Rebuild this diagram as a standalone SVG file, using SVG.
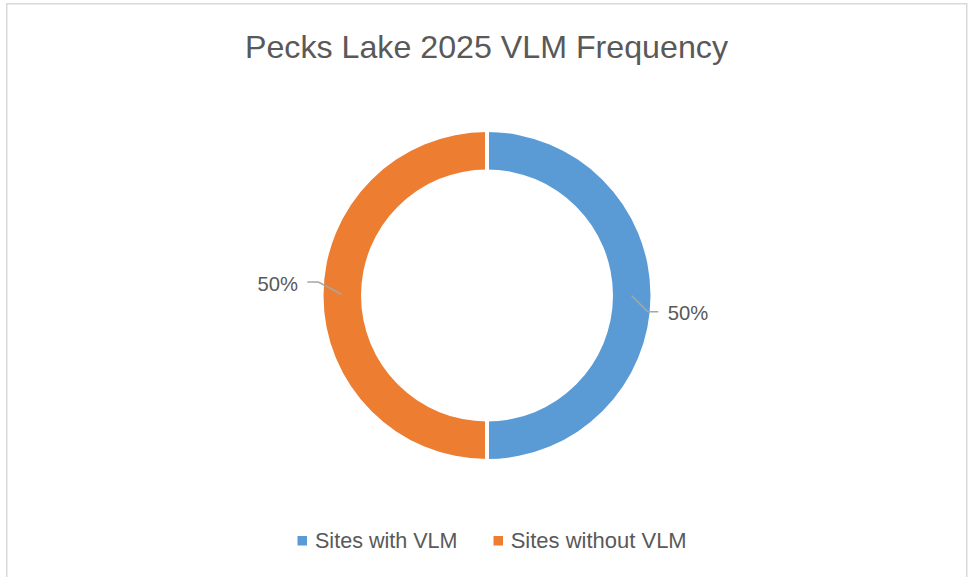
<svg xmlns="http://www.w3.org/2000/svg" width="969" height="577" viewBox="0 0 969 577">
  <style>
    .txt { font-family: "Liberation Sans", Arial, sans-serif; fill: #595959; }
    .title { font-size: 32px; }
    .lbl { font-size: 21px; }
    .leg { font-size: 21.5px; }
    .leader { fill: none; stroke: #a6a6a6; stroke-width: 1.6; }
    .blue { fill: #5b9bd5; }
    .orange { fill: #ed7d31; }
  </style>
  <rect x="0" y="0" width="969" height="577" fill="#ffffff"/>
  <rect id="chart-border" x="6.75" y="3.75" width="960" height="600" fill="#ffffff" stroke="#d9d9d9" stroke-width="1.5"/>
  <g id="title">
    <text class="txt title" x="486.5" y="58.3" text-anchor="middle" textLength="483" lengthAdjust="spacingAndGlyphs">Pecks Lake 2025 VLM Frequency</text>
  </g>
  <g id="segment-with-vlm">
    <path class="blue" d="M 487 132 A 163.5 163.5 0 0 1 487 459 L 487 421.5 A 126 126 0 0 0 487 169.5 Z"/>
  </g>
  <g id="segment-without-vlm">
    <path class="orange" d="M 487 459 A 163.5 163.5 0 0 1 487 132 L 487 169.5 A 126 126 0 0 0 487 421.5 Z"/>
  </g>
  <line x1="487" y1="128" x2="487" y2="463" stroke="#ffffff" stroke-width="4"/>
  <g id="connectors">
    <polyline class="leader" points="631.7,295.7 647.7,311.7 658.3,311.7"/>
    <polyline class="leader" points="341.7,294.3 318.3,282 307.3,282"/>
  </g>
  <g id="label-with-vlm">
    <text class="txt lbl" x="667.7" y="320" textLength="40.5" lengthAdjust="spacingAndGlyphs">50%</text>
  </g>
  <g id="label-without-vlm">
    <text class="txt lbl" x="257.5" y="290.7" textLength="40.5" lengthAdjust="spacingAndGlyphs">50%</text>
  </g>
  <g id="legend">
    <g id="legend-with-vlm">
      <rect class="blue" x="297.5" y="536" width="9.5" height="9.5"/>
      <text class="txt leg" x="315" y="548.3" textLength="142.5" lengthAdjust="spacingAndGlyphs">Sites with VLM</text>
    </g>
    <g id="legend-without-vlm">
      <rect class="orange" x="493.5" y="536" width="9.5" height="9.5"/>
      <text class="txt leg" x="510.7" y="548.3" textLength="176" lengthAdjust="spacingAndGlyphs">Sites without VLM</text>
    </g>
  </g>
</svg>
